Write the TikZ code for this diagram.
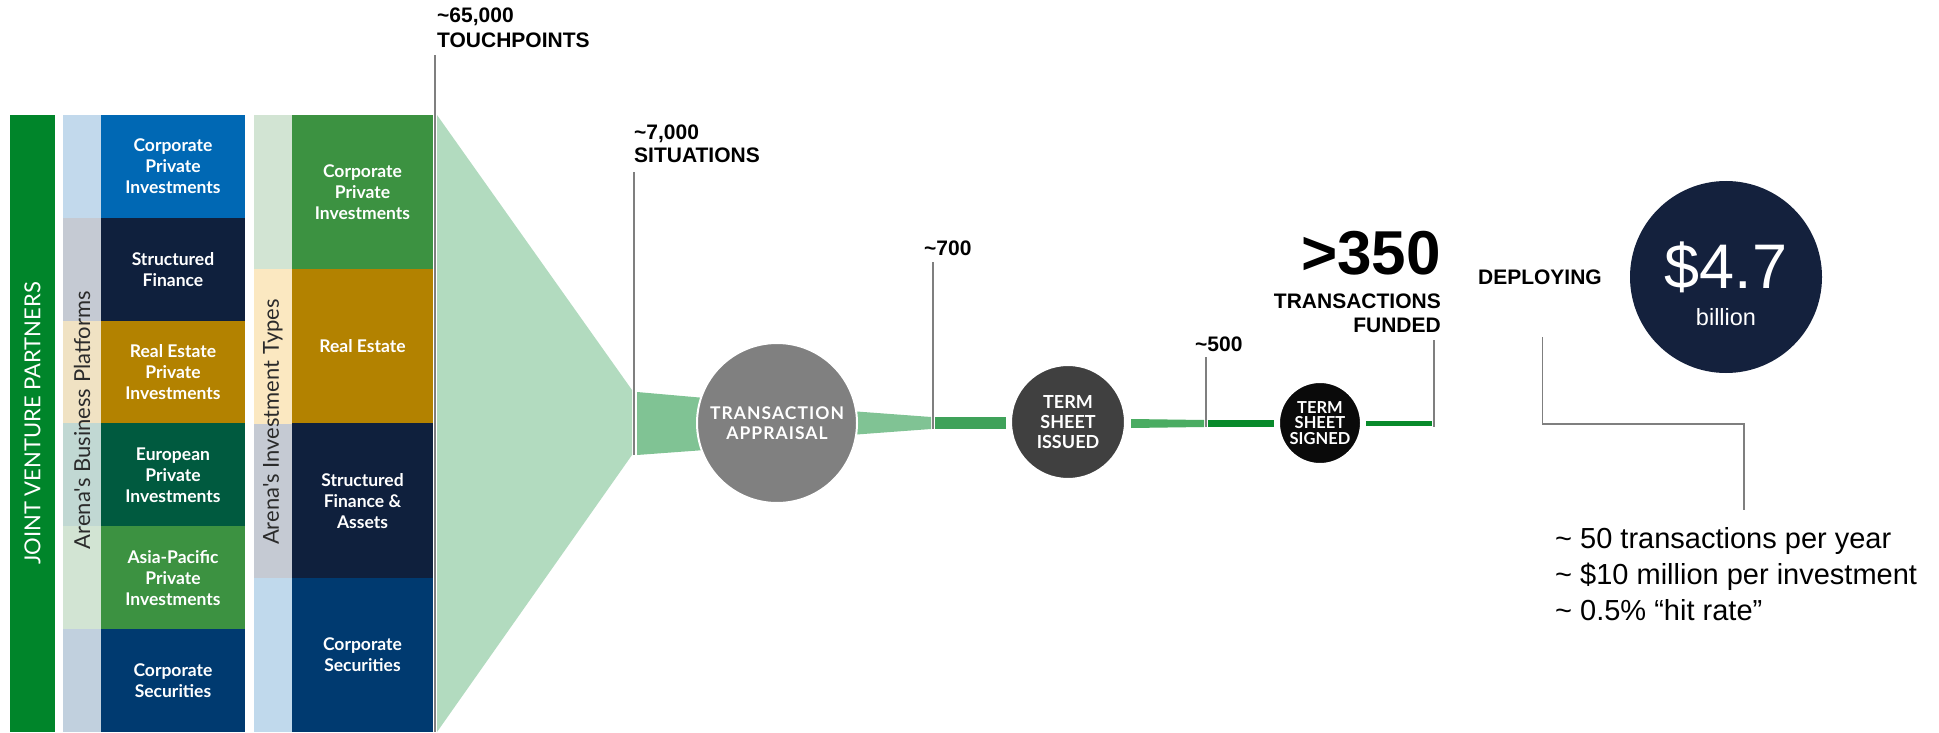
\documentclass[tikz,border=0pt]{standalone}
\usepackage{fontspec}
\setmainfont{Liberation Sans}
\newfontfamily\boxfont{Lato}
\newfontfamily\stagefont[LetterSpace=6]{Lato}
\usetikzlibrary{positioning}

\definecolor{jvgreen}{HTML}{00852A}
\definecolor{platblue}{HTML}{0068B4}
\definecolor{platbluelt}{HTML}{C2D9EC}
\definecolor{navy}{HTML}{0F203D}
\definecolor{navylt}{HTML}{C5CAD3}
\definecolor{gold}{HTML}{B38200}
\definecolor{goldlt}{HTML}{F0E2C3}
\definecolor{goldlter}{HTML}{FBE8C1}
\definecolor{deepgreen}{HTML}{005A3F}
\definecolor{deepgreenlt}{HTML}{C1D8D3}
\definecolor{leafgreen}{HTML}{3C9241}
\definecolor{leafgreenlt}{HTML}{D2E4D3}
\definecolor{secblue}{HTML}{003A70}
\definecolor{secbluelt}{HTML}{C1D0DE}
\definecolor{secblueltr}{HTML}{C0D9EC}
\definecolor{labelgray}{HTML}{2B2B2B}
\definecolor{leadgray}{HTML}{7F7F7F}
\definecolor{funnellt}{HTML}{B2DBBF}
\definecolor{funnelmid}{HTML}{80C394}
\definecolor{barA}{HTML}{3FA25A}
\definecolor{barB}{HTML}{4AAC62}
\definecolor{barC}{HTML}{088A2B}
\definecolor{apprgray}{HTML}{808080}
\definecolor{issuedgray}{HTML}{404040}
\definecolor{signedblack}{HTML}{0A0A0A}
\definecolor{dollarnavy}{HTML}{14213D}

\tikzset{
    boxtext/.style={inner sep=0pt, outer sep=0pt, text=white, align=center,
        font=\boxfont\bfseries\fontsize{17.5}{21}\selectfont},
    sidelabel/.style={rotate=90, inner sep=0pt, text=labelgray,
        font=\boxfont\fontsize{22}{26}\selectfont},
    countlbl/.style={inner sep=0pt, font=\bfseries\fontsize{21}{25}\selectfont},
    leader/.style={draw=leadgray, line width=1.6pt},
    stage/.style={circle, draw=white, line width=2pt, text=white, align=center,
        inner sep=0pt},
    notelbl/.style={inner sep=0pt, anchor=base west, font=\fontsize{29}{36}\selectfont}
}

\begin{document}
\begin{tikzpicture}[x=1pt, y=-1pt]
    \path[use as bounding box, fill=white] (0,0) rectangle (1939,733);

    % joint venture bar
    \node[rotate=90, fill=jvgreen, text=white, inner sep=0pt,
        minimum width=617pt, minimum height=45pt,
        font=\boxfont\fontsize{22}{26}\selectfont] (jvbar) at (32.5,423.5) {JOINT VENTURE PARTNERS};

    % business platforms
    \foreach \dk/\lt/\txt [count=\i from 0] in {
        platblue/platbluelt/{Corporate\\Private\\Investments},
        navy/navylt/{Structured\\Finance},
        gold/goldlt/{Real Estate\\Private\\Investments},
        deepgreen/deepgreenlt/{European\\Private\\Investments},
        leafgreen/leafgreenlt/{Asia-Pacific\\Private\\Investments},
        secblue/secbluelt/{Corporate\\Securities}}
    {
        \fill[\lt] (63,{115+\i*102.83}) rectangle (101.5,{115+(\i+1)*102.83});
        \node[boxtext, fill=\dk, minimum width=144pt, minimum height=102.9pt]
            (plat\i) at (173,{115+(\i+0.5)*102.83}) {\txt};
    }
    \node[sidelabel] (platlbl) at (82,420) {Arena's Business Platforms};

    % investment types
    \foreach \dk/\lt/\txt [count=\i from 0] in {
        leafgreen/leafgreenlt/{Corporate\\Private\\Investments},
        gold/goldlter/{Real Estate},
        navy/navylt/{Structured\\Finance \&\\Assets},
        secblue/secblueltr/{Corporate\\Securities}}
    {
        \fill[\lt] (254,{115+\i*154.25}) rectangle (292.5,{115+(\i+1)*154.25});
        \node[boxtext, fill=\dk, minimum width=141pt, minimum height=154.4pt]
            (inv\i) at (362.5,{115+(\i+0.5)*154.25}) {\txt};
    }
    \node[sidelabel] (invlbl) at (273,422) {Arena's Investment Types};

    % funnel
    \fill[funnellt] (437,115) -- (632,390) -- (632,455) -- (437,732) -- cycle;
    \fill[funnelmid] (637,392) -- (705,398) -- (705,450) -- (637,455) -- cycle;
    \fill[funnelmid] (850,411) -- (931,417) -- (931,429) -- (850,435) -- cycle;
    \fill[barA] (935,417) rectangle (1006,429);
    \fill[barB] (1131,419) -- (1204,420) -- (1204,427) -- (1131,428) -- cycle;
    \fill[barC] (1208,420) rectangle (1274,427);
    \fill[barC] (1366,421) rectangle (1432,426);

    % stages
    \node[stage, fill=apprgray, minimum size=160pt,
        font=\stagefont\bfseries\fontsize{17.5}{20}\selectfont] (appraisal) at (777,423) {TRANSACTION\\APPRAISAL};
    \node[stage, fill=issuedgray, minimum size=114pt,
        font=\boxfont\bfseries\fontsize{18}{20}\selectfont] (issued) at (1068,422) {TERM\\SHEET\\ISSUED};
    \node[stage, fill=signedblack, minimum size=82pt,
        font=\boxfont\bfseries\fontsize{16.5}{15.5}\selectfont] (signed) at (1320,423) {TERM\\SHEET\\SIGNED};

    % counts
    \node[countlbl, anchor=base west] (touchnum) at (437,23) {\textasciitilde65,000};
    \node[countlbl, anchor=base west] (touchword) at (437,48) {TOUCHPOINTS};
    \node[countlbl, anchor=base west] (sitnum) at (634,140) {\textasciitilde7,000};
    \node[countlbl, anchor=base west] (sitword) at (634,163) {SITUATIONS};
    \node[countlbl, anchor=base west] (n700) at (924,255) {\textasciitilde700};
    \node[countlbl, anchor=base west] (n500) at (1195,351) {\textasciitilde500};
    \node[inner sep=0pt, anchor=base east, font=\bfseries\fontsize{62}{70}\selectfont] (bignum) at (1441,274) {>350};
    \node[countlbl, anchor=base east] (transword) at (1441,308) {TRANSACTIONS};
    \node[countlbl, anchor=base east] (fundword) at (1441,332) {FUNDED};
    \node[countlbl, anchor=base east] (deploylbl) at (1602,284) {DEPLOYING};

    \coordinate (touchfoot) at (435,732);
    \coordinate (sitfoot) at (634,455);
    \coordinate (foot700) at (933,429);
    \coordinate (foot500) at (1206,427);
    \coordinate (fundfoot) at (1434,427);
    \coordinate (elbow) at (1744,424);
    \coordinate (notetop) at (1744,510);

    \draw[leader] (touchword.south west) ++(-2,7) -- (touchfoot);
    \draw[leader] (sitword.south west) ++(0,9) -- (sitfoot);
    \draw[leader] (n700.south west) ++(9,7) -- (foot700);
    \draw[leader] (n500.south west) ++(11,6) -- (foot500);
    \draw[leader] (fundword.south east) ++(-7,8) -- (fundfoot);
    \draw[leader] (deploylbl.south) ++(2.5,53) |- (elbow) -- (notetop);

    % deployed amount
    \node[circle, fill=dollarnavy, minimum size=192pt, inner sep=0pt] (dollarcircle) at (1726,277) {};
    \node[inner sep=0pt, anchor=base, text=white, font=\fontsize{63}{70}\selectfont] (amount) at (1726,288) {\$4.7};
    \node[inner sep=0pt, anchor=base, text=white, font=\fontsize{23.5}{26}\selectfont] (billionlbl) at (1726,325) {billion};

    \node[notelbl] (note1) at (1555,548) {\textasciitilde\ 50 transactions per year};
    \node[notelbl] (note2) at (1555,584) {\textasciitilde\ \$10 million per investment};
    \node[notelbl] (note3) at (1555,620) {\textasciitilde\ 0.5\% “hit rate”};
\end{tikzpicture}
\end{document}
